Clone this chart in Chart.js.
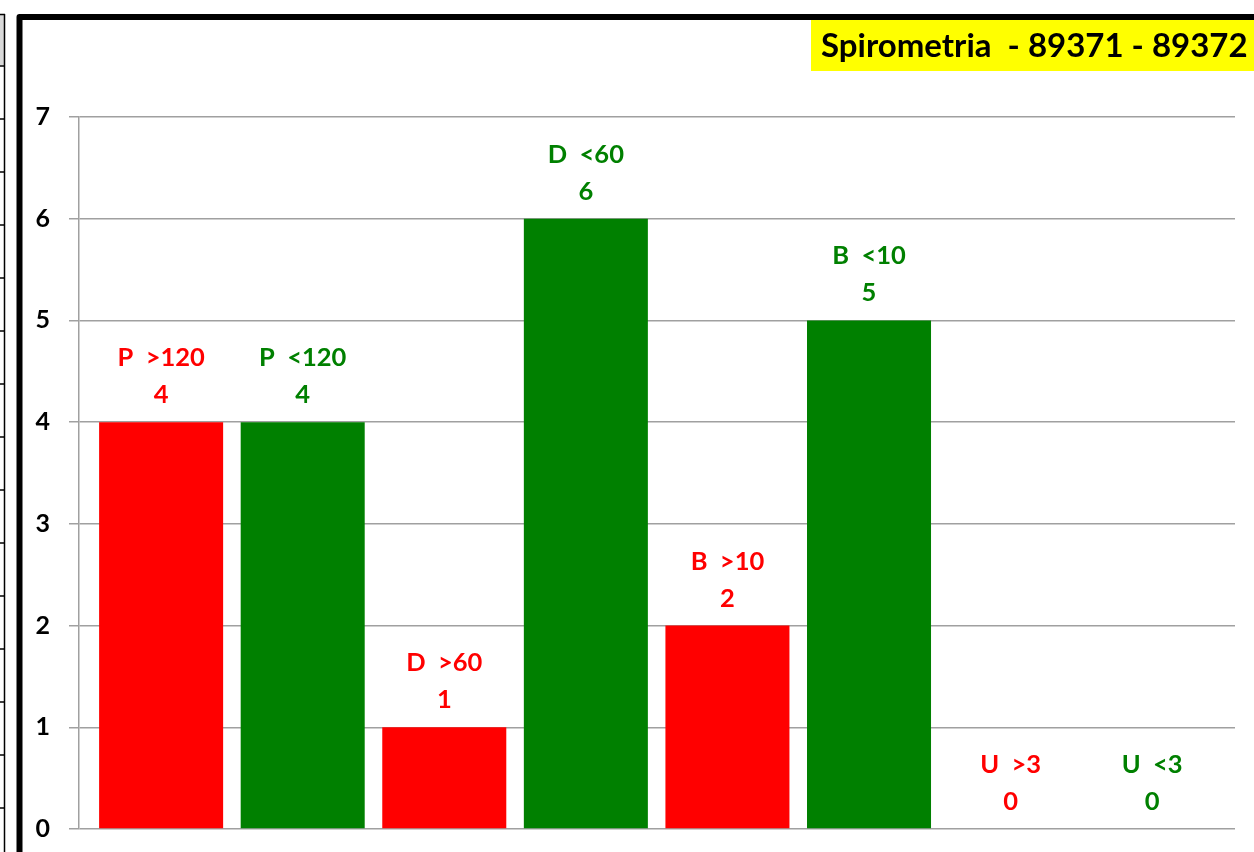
<!DOCTYPE html>
<html>
<head>
<meta charset="utf-8">
<script src="https://cdn.jsdelivr.net/npm/chart.js@4"></script>
<style>
  html, body { margin: 0; padding: 0; background: #ffffff; }
  #wrap { width: 1254px; height: 852px; position: relative; }
</style>
</head>
<body>
<div id="wrap"><canvas id="spiro"></canvas></div>
<script>
// chart data
const categories = ['P  >120', 'P  <120', 'D  >60', 'D  <60', 'B  >10', 'B  <10', 'U  >3', 'U  <3'];
const counts = [4, 4, 1, 6, 2, 5, 0, 0];
const barColors = ['#ff0000', '#008000', '#ff0000', '#008000', '#ff0000', '#008000', '#ff0000', '#008000'];
const yTicks = [0, 1, 2, 3, 4, 5, 6, 7];
const chartTitle = 'Spirometria  - 89371 - 89372';

const FONT = 'Lato, "Open Sans", sans-serif';

// frame, left strip of the neighbouring sheet and yellow title box
const framePlugin = {
    id: 'frame',
    beforeDraw(chart) {
        const c = chart.ctx;
        c.save();
        // strip on the far left
        c.fillStyle = '#d9d9d9';
        c.fillRect(0, 14, 4, 51);
        c.strokeStyle = '#000';
        c.lineWidth = 1.5;
        c.beginPath();
        c.moveTo(4.5, 14);
        c.lineTo(4.5, 852);
        c.moveTo(0, 14.5);
        c.lineTo(5, 14.5);
        for (let k = 0; k < 15; k++) {
            const ty = 66 + k * 53;
            c.moveTo(0, ty);
            c.lineTo(5, ty);
        }
        c.stroke();
        // thick black frame
        c.lineWidth = 6;
        c.lineJoin = 'round';
        c.beginPath();
        c.moveTo(19.5, 860);
        c.lineTo(19.5, 17);
        c.lineTo(1260, 17);
        c.stroke();
        // title box
        c.fillStyle = '#ffff00';
        c.fillRect(811, 20, 450, 51);
        c.fillStyle = '#000';
        c.font = 'bold 33px ' + FONT;
        c.textBaseline = 'alphabetic';
        c.textAlign = 'left';
        c.fillText(chartTitle, 821, 57);
        c.restore();
    }
};

// two-line labels above each bar
const barLabels = {
    id: 'barLabels',
    afterDatasetsDraw(chart) {
        const c = chart.ctx;
        const meta = chart.getDatasetMeta(0);
        c.save();
        c.font = 'bold 25.5px ' + FONT;
        c.textAlign = 'center';
        c.textBaseline = 'alphabetic';
        meta.data.forEach((bar, i) => {
            c.fillStyle = barColors[i];
            c.fillText(categories[i], bar.x, bar.y - 56);
            c.fillText(String(counts[i]), bar.x, bar.y - 19);
        });
        c.restore();
    }
};

new Chart(document.getElementById('spiro'), {
    type: 'bar',
    data: {
        datasets: [{
            data: counts.map((v, i) => ({ x: i, y: v })),
            backgroundColor: barColors,
            borderWidth: 0,
            barPercentage: 0.876,
            categoryPercentage: 1
        }]
    },
    options: {
        responsive: true,
        maintainAspectRatio: false,
        animation: false,
        events: [],
        layout: { padding: { left: 0, right: 19, top: 117, bottom: 23 } },
        plugins: {
            legend: { display: false },
            tooltip: { enabled: false },
            title: { display: false }
        },
        scales: {
            x: {
                type: 'linear',
                display: false,
                offset: false,
                min: -0.58,
                max: categories.length - 1 + 0.585,
                afterBuildTicks(scale) { scale.ticks = categories.map((_, i) => ({ value: i })); }
            },
            y: {
                min: yTicks[0],
                max: yTicks[yTicks.length - 1],
                afterFit(scale) {
                    scale.width = 79;
                    // keep the plot area where the layout padding puts it
                    scale.paddingTop = 0;
                    scale.paddingBottom = 0;
                },
                afterBuildTicks(scale) { scale.ticks = yTicks.map(v => ({ value: v })); },
                grid: {
                    color: '#a0a0a0',
                    lineWidth: 1.5,
                    tickLength: 10,
                    tickColor: '#a0a0a0'
                },
                border: { display: true, color: '#a0a0a0', width: 1.5 },
                ticks: {
                    color: '#000',
                    padding: 19,
                    font: { family: FONT, size: 25, weight: 'bold' }
                }
            }
        }
    },
    plugins: [framePlugin, barLabels]
});
</script>
</body>
</html>
